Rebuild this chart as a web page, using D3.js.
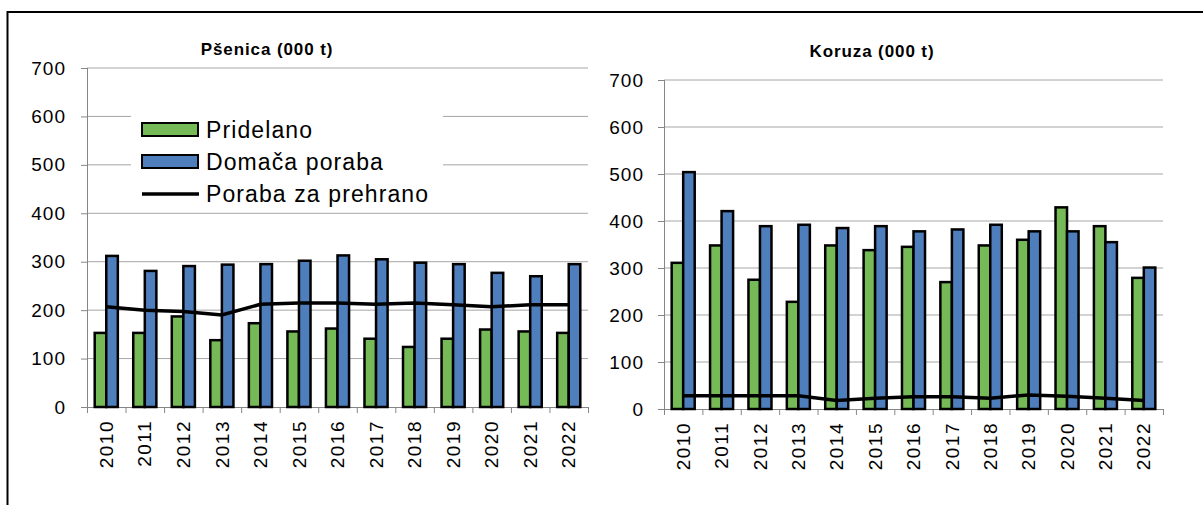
<!DOCTYPE html>
<html>
<head>
<meta charset="utf-8">
<script src="https://cdn.jsdelivr.net/npm/d3@7"></script>
<style>
    body { margin: 0; background: #fff; }
    svg { display: block; font-family: 'Liberation Sans', Arial, sans-serif; }
    .grid line { stroke: #a6a6a6; stroke-width: 1px; }
    .axis path, .axis line { stroke: #868686; }
    .axis text { fill: #000; font-size: 19px; letter-spacing: 1px; }
    .xlabels text { letter-spacing: 1.5px; }
    .title { font-size: 17px; font-weight: bold; letter-spacing: 0.9px; }
    .legend text { font-size: 23px; letter-spacing: 1.1px; }
</style>
</head>
<body>
<svg id="chart" width="1203" height="505"></svg>
<script>
const years = ['2010', '2011', '2012', '2013', '2014', '2015', '2016', '2017', '2018', '2019', '2020', '2021', '2022'];
const yTicks = [0, 100, 200, 300, 400, 500, 600, 700];
const seriesNames = ['Pridelano', 'Domača poraba', 'Poraba za prehrano'];

// Pšenica
const wheatProduced = [153, 153, 187, 138, 173, 156, 162, 141, 124, 141, 160, 156, 153];
const wheatDomestic = [312, 281, 291, 294, 295, 302, 313, 305, 298, 295, 277, 270, 295];
const wheatFood = [207, 200, 197, 190, 212, 215, 215, 212, 215, 211, 207, 211, 211];

// Koruza
const maizeProduced = [311, 348, 275, 228, 348, 338, 345, 270, 348, 360, 429, 389, 279];
const maizeDomestic = [504, 421, 389, 392, 385, 389, 378, 382, 392, 378, 378, 355, 301];
const maizeFood = [28, 28, 28, 28, 18, 23, 26, 26, 23, 30, 27, 23, 18];

const colors = { produced: '#76ba57', domestic: '#4f7ebd' };

const svg = d3.select('#chart');

// outer frame
svg.append('line').attr('x1', 7).attr('x2', 1203).attr('y1', 12).attr('y2', 12)
    .attr('stroke', '#000').attr('stroke-width', 2);
svg.append('line').attr('x1', 7.5).attr('x2', 7.5).attr('y1', 11).attr('y2', 505)
    .attr('stroke', '#000').attr('stroke-width', 2);

function drawPanel(opts) {
    const g = svg.append('g');

    const x = d3.scaleBand()
        .domain(years)
        .range([opts.left, opts.right])
        .paddingInner(0.4)
        .paddingOuter(0.2);

    const xEdges = d3.scaleLinear().domain([0, years.length]).range([opts.left, opts.right]);

    const y = d3.scaleLinear().domain([0, 700]).range([opts.bottom, opts.top]);

    g.append('g')
        .attr('class', 'grid')
        .selectAll('line')
        .data(yTicks.slice(1))
        .enter().append('line')
        .attr('x1', opts.left)
        .attr('x2', opts.right)
        .attr('y1', d => y(d))
        .attr('y2', d => y(d));

    const yAxis = g.append('g')
        .attr('class', 'axis')
        .attr('transform', `translate(${opts.left},0)`)
        .call(d3.axisLeft(y).tickValues(yTicks).tickSize(6).tickPadding(opts.tickPad).tickSizeOuter(0));
    yAxis.select('.domain').attr('d', `M0.5,${opts.bottom}V${opts.top}`);

    g.append('g')
        .attr('class', 'axis')
        .attr('transform', `translate(0,${opts.bottom})`)
        .call(d3.axisBottom(xEdges).tickValues(d3.range(years.length + 1)).tickSize(6).tickFormat('').tickSizeOuter(0));

    g.append('g')
        .attr('class', 'axis xlabels')
        .selectAll('text')
        .data(years)
        .enter().append('text')
        .attr('transform', d => `translate(${x(d) + x.bandwidth() / 2},${opts.bottom + 13}) rotate(-90)`)
        .attr('text-anchor', 'end')
        .attr('dy', '0.35em')
        .text(d => d);

    const half = x.bandwidth() / 2;
    const bars = [
        { values: opts.produced, color: colors.produced, offset: 0 },
        { values: opts.domestic, color: colors.domestic, offset: half }
    ];

    bars.forEach(s => {
        g.append('g')
            .selectAll('rect')
            .data(years)
            .enter().append('rect')
            .attr('x', d => x(d) + s.offset)
            .attr('y', (d, i) => y(s.values[i]))
            .attr('width', half)
            .attr('height', (d, i) => y(0) - y(s.values[i]))
            .attr('fill', s.color)
            .attr('stroke', '#000')
            .attr('stroke-width', 2.5);
    });

    const line = d3.line()
        .x((d, i) => x(years[i]) + x.bandwidth() / 2)
        .y(d => y(d));

    g.append('path')
        .datum(opts.food)
        .attr('d', line)
        .attr('fill', 'none')
        .attr('stroke', '#000')
        .attr('stroke-width', 3.5);

    g.append('text')
        .attr('class', 'title')
        .attr('x', opts.titleX)
        .attr('y', opts.titleY)
        .attr('text-anchor', 'middle')
        .text(opts.title);

    if (opts.legend) {
        const lg = g.append('g').attr('class', 'legend');
        lg.append('rect')
            .attr('x', 131).attr('y', 100).attr('width', 312).attr('height', 108)
            .attr('fill', '#fff');

        const rows = lg.selectAll('g.row')
            .data(seriesNames)
            .enter().append('g')
            .attr('class', 'row')
            .attr('transform', (d, i) => `translate(142,${123 + i * 32})`);

        rows.filter((d, i) => i < 2)
            .append('rect')
            .attr('width', 56)
            .attr('height', 13)
            .attr('fill', (d, i) => i === 0 ? colors.produced : colors.domestic)
            .attr('stroke', '#000')
            .attr('stroke-width', 2);

        rows.filter((d, i) => i === 2)
            .append('line')
            .attr('x1', 0).attr('x2', 57)
            .attr('y1', 7).attr('y2', 7)
            .attr('stroke', '#000')
            .attr('stroke-width', 3.5);

        rows.append('text')
            .attr('x', 64)
            .attr('y', 15)
            .text(d => d);
    }
}

drawPanel({
    left: 87, right: 588, top: 68, bottom: 407, tickPad: 15,
    title: 'Pšenica (000 t)', titleX: 267, titleY: 55,
    produced: wheatProduced, domestic: wheatDomestic, food: wheatFood,
    legend: true
});

drawPanel({
    left: 664, right: 1163, top: 80, bottom: 409, tickPad: 14,
    title: 'Koruza (000 t)', titleX: 872, titleY: 57,
    produced: maizeProduced, domestic: maizeDomestic, food: maizeFood,
    legend: false
});
</script>
</body>
</html>
